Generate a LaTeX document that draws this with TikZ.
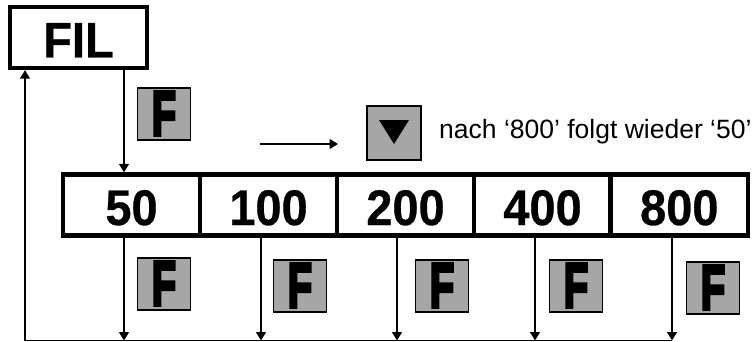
\documentclass[tikz,border=0pt]{standalone}
\usepackage{fontspec}
\setmainfont{Liberation Sans}
\newfontfamily\heavyF[FakeBold=6]{Liberation Sans Bold}
\newfontfamily\bigF[FakeBold=0.6]{Liberation Sans Bold}
\usetikzlibrary{arrows.meta}
\definecolor{keygrey}{HTML}{A6A6A6}
\tikzset{
  x=1pt,y=-1pt,
  bigbox/.style={draw=black,line width=4.4pt,fill=white,inner sep=0pt,
    font=\fontsize{50}{50}\bigF,text=black},
  cell/.style={bigbox,minimum width=137pt,minimum height=61pt},
  keybox/.style={draw=black,line width=1.2pt,fill=keygrey,inner sep=0pt,
    minimum width=53pt,minimum height=52pt},
  fkey/.style={keybox,font=\heavyF,text=black},
  link/.style={draw=black,line width=1.4pt},
  arrowlink/.style={link,-{Triangle[length=8.5pt,width=10pt]}},
}
\newcommand{\keyF}{\raisebox{-21pt}[20pt][20pt]{\resizebox{24pt}{43pt}{F}}}
\newcommand{\bigT}[1]{\raisebox{-20pt}[20pt][20pt]{\scalebox{0.94}[1]{#1}}}
\begin{document}
\begin{tikzpicture}
\useasboundingbox (0,0) rectangle (754,342);
\fill[white] (0,0) rectangle (754,342);
\node[bigbox,minimum width=137pt,minimum height=61pt] (fil) at (78.5,37.5) {\bigT{FIL}};
\node[cell] (c50) at (131.5,205) {\bigT{50}};
\node[cell] (c100) at (268.5,205) {\bigT{100}};
\node[cell] (c200) at (405.5,205) {\bigT{200}};
\node[cell] (c400) at (542.5,205) {\bigT{400}};
\node[cell,minimum width=137.5pt] (c800) at (679.3,205) {\bigT{800}};
\node[fkey] (k0) at (164,114) {\keyF};
\node[fkey] (k1) at (164,284) {\keyF};
\node[fkey] (k2) at (300,286) {\keyF};
\node[fkey] (k3) at (442,286) {\keyF};
\node[fkey] (k4) at (576,286) {\keyF};
\node[fkey] (k5) at (713,288) {\keyF};
\node[keybox,minimum width=54pt,minimum height=54pt] (down) at (394,133) {};
\fill[black] (379,120) -- (409,120) -- (394,144) -- cycle;
\node[anchor=base west,inner sep=0pt,font=\fontsize{26.5}{27}\selectfont] (note) at (439,138) {nach ‘800’ folgt wieder ‘50’};
\coordinate (from) at (260,144);
\coordinate (to) at (338,144);
\draw[arrowlink] (from) -- (to);
\coordinate (b0) at (124,340.5);
\coordinate (b1) at (261,340.5);
\coordinate (b2) at (397,340.5);
\coordinate (b3) at (535,340.5);
\coordinate (b4) at (672,340.5);
\coordinate (corner) at (25,340.5);
\draw[arrowlink] (fil.south -| b0) -- (c50.north -| b0);
\draw[arrowlink] (c50.south -| b0) -- (b0);
\draw[arrowlink] (c100.south -| b1) -- (b1);
\draw[arrowlink] (c200.south -| b2) -- (b2);
\draw[arrowlink] (c400.south -| b3) -- (b3);
\draw[arrowlink] (c800.south -| b4) -- (b4);
\draw[arrowlink] (b4) -- (corner) -- (fil.south -| corner);
\end{tikzpicture}
\end{document}
